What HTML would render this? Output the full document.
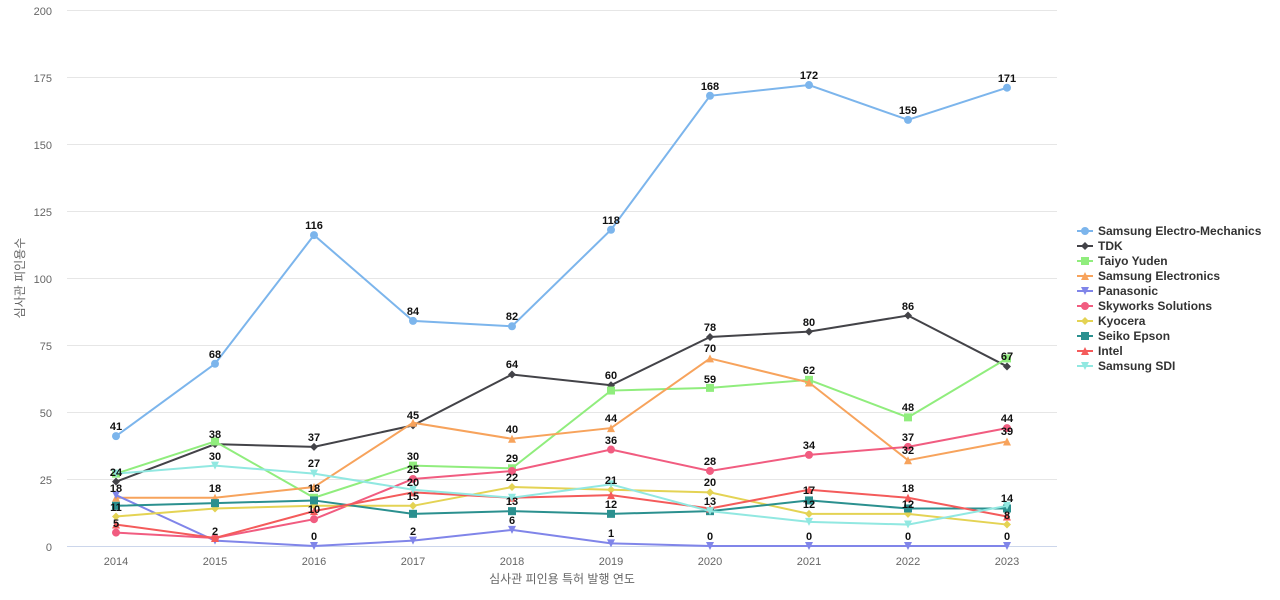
<!DOCTYPE html>
<html><head><meta charset="utf-8"><style>
body{margin:0;background:#fff;}
svg{display:block;font-family:"Liberation Sans","Noto Sans CJK KR",sans-serif;}
.ax{font-size:11px;fill:#666;}
.lb{font-size:11px;font-weight:bold;fill:#111;text-anchor:middle;}
.lg{font-size:12px;font-weight:bold;fill:#333;}
</style></head><body>
<svg id="s" width="1280" height="600" viewBox="0 0 1280 600">
<g stroke="#e6e6e6" stroke-width="1">
<line x1="67" x2="1057" y1="10.5" y2="10.5"/><line x1="67" x2="1057" y1="77.5" y2="77.5"/>
<line x1="67" x2="1057" y1="144.5" y2="144.5"/><line x1="67" x2="1057" y1="211.5" y2="211.5"/>
<line x1="67" x2="1057" y1="278.5" y2="278.5"/><line x1="67" x2="1057" y1="345.5" y2="345.5"/>
<line x1="67" x2="1057" y1="412.5" y2="412.5"/><line x1="67" x2="1057" y1="479.5" y2="479.5"/>
</g>
<line x1="67" x2="1057" y1="546.5" y2="546.5" stroke="#ccd6eb"/>
<g class="ax" text-anchor="end">
<text x="52" y="15">200</text><text x="52" y="82">175</text><text x="52" y="149">150</text><text x="52" y="216">125</text>
<text x="52" y="283">100</text><text x="52" y="350">75</text><text x="52" y="417">50</text><text x="52" y="484">25</text><text x="52" y="551">0</text>
</g>
<g class="ax" text-anchor="middle">
<text x="116" y="565">2014</text><text x="215" y="565">2015</text><text x="314" y="565">2016</text><text x="413" y="565">2017</text><text x="512" y="565">2018</text>
<text x="611" y="565">2019</text><text x="710" y="565">2020</text><text x="809" y="565">2021</text><text x="908" y="565">2022</text><text x="1007" y="565">2023</text>
<text x="562" y="583" font-size="12">심사관 피인용 특허 발행 연도</text>
<text transform="translate(24,278) rotate(-90)" font-size="12">심사관 피인용수</text>
</g>
<g id="series"></g>
<g class="lb">
<text x="116" y="430">41</text><text x="116" y="476">24</text><text x="116" y="492">18</text><text x="116" y="511">11</text><text x="116" y="527">5</text>
<text x="215" y="358">68</text><text x="215" y="438">38</text><text x="215" y="460">30</text><text x="215" y="492">18</text><text x="215" y="535">2</text>
<text x="314" y="229">116</text><text x="314" y="441">37</text><text x="314" y="467">27</text><text x="314" y="492">18</text><text x="314" y="513">10</text><text x="314" y="540">0</text>
<text x="413" y="419">45</text><text x="413" y="315">84</text><text x="413" y="460">30</text><text x="413" y="473">25</text><text x="413" y="486">20</text><text x="413" y="500">15</text><text x="413" y="535">2</text>
<text x="512" y="320">82</text><text x="512" y="368">64</text><text x="512" y="433">40</text><text x="512" y="462">29</text><text x="512" y="481">22</text><text x="512" y="505">13</text><text x="512" y="524">6</text>
<text x="611" y="224">118</text><text x="611" y="379">60</text><text x="611" y="422">44</text><text x="611" y="444">36</text><text x="611" y="484">21</text><text x="611" y="508">12</text><text x="611" y="537">1</text>
<text x="710" y="90">168</text><text x="710" y="331">78</text><text x="710" y="352">70</text><text x="710" y="383">59</text><text x="710" y="465">28</text><text x="710" y="486">20</text><text x="710" y="505">13</text><text x="710" y="540">0</text>
<text x="809" y="79">172</text><text x="809" y="326">80</text><text x="809" y="374">62</text><text x="809" y="449">34</text><text x="809" y="494">17</text><text x="809" y="508">12</text><text x="809" y="540">0</text>
<text x="908" y="114">159</text><text x="908" y="310">86</text><text x="908" y="411">48</text><text x="908" y="441">37</text><text x="908" y="454">32</text><text x="908" y="492">18</text><text x="908" y="508">12</text><text x="908" y="540">0</text>
<text x="1007" y="82">171</text><text x="1007" y="360">67</text><text x="1007" y="422">44</text><text x="1007" y="435">39</text><text x="1007" y="502">14</text><text x="1007" y="519">8</text><text x="1007" y="540">0</text>
</g>
<g class="lg">
<text x="1098" y="235">Samsung Electro-Mechanics</text><text x="1098" y="250">TDK</text><text x="1098" y="265">Taiyo Yuden</text>
<text x="1098" y="280">Samsung Electronics</text><text x="1098" y="295">Panasonic</text><text x="1098" y="310">Skyworks Solutions</text>
<text x="1098" y="325">Kyocera</text><text x="1098" y="340">Seiko Epson</text><text x="1098" y="355">Intel</text><text x="1098" y="370">Samsung SDI</text>
</g>
<g id="leg"></g>
</svg>
<script>
var S=[
["#7cb5ec","c",[41,68,116,84,82,118,168,172,159,171]],
["#434348","d",[24,38,37,45,64,60,78,80,86,67]],
["#90ed7d","s",[27,39,18,30,29,58,59,62,48,70]],
["#f7a35c","t",[18,18,22,46,40,44,70,61,32,39]],
["#8085e9","v",[19,2,0,2,6,1,0,0,0,0]],
["#f15c80","c",[5,3,10,25,28,36,28,34,37,44]],
["#e4d354","d",[11,14,15,15,22,21,20,12,12,8]],
["#2b908f","s",[15,16,17,12,13,12,13,17,14,14]],
["#f45b5b","t",[8,3,13,20,18,19,14,21,18,11]],
["#91e8e1","v",[27,30,27,21,18,23,13,9,8,15]]];
var ns="http://www.w3.org/2000/svg";
function mk(t,x,y,c){var e;
 if(t=="c"){e=document.createElementNS(ns,"circle");e.setAttribute("cx",x);e.setAttribute("cy",y);e.setAttribute("r",4);}
 else{e=document.createElementNS(ns,"path");var d;
  if(t=="d")d="M"+x+","+(y-4)+"L"+(x+4)+","+y+"L"+x+","+(y+4)+"L"+(x-4)+","+y+"Z";
  if(t=="s")d="M"+(x-4)+","+(y-4)+"h8v8h-8Z";
  if(t=="t")d="M"+x+","+(y-4)+"L"+(x+4)+","+(y+4)+"L"+(x-4)+","+(y+4)+"Z";
  if(t=="v")d="M"+(x-4)+","+(y-4)+"L"+(x+4)+","+(y-4)+"L"+x+","+(y+4)+"Z";
  e.setAttribute("d",d);}
 e.setAttribute("fill",c);return e;}
var g=document.getElementById("series"),lg=document.getElementById("leg");
S.forEach(function(s,i){var pts=s[2].map(function(v,j){return [116+99*j,546-v*2.68];});
 var p=document.createElementNS(ns,"polyline");p.setAttribute("points",pts.map(function(a){return a.join(",")}).join(" "));
 p.setAttribute("fill","none");p.setAttribute("stroke",s[0]);p.setAttribute("stroke-width",2);g.appendChild(p);
 pts.forEach(function(a){g.appendChild(mk(s[1],a[0],a[1],s[0]));});
 var y=231+15*i;var l=document.createElementNS(ns,"line");l.setAttribute("x1",1077);l.setAttribute("x2",1093);l.setAttribute("y1",y);l.setAttribute("y2",y);l.setAttribute("stroke",s[0]);l.setAttribute("stroke-width",2);lg.appendChild(l);
 lg.appendChild(mk(s[1],1085,y,s[0]));});
</script>
</body></html>
